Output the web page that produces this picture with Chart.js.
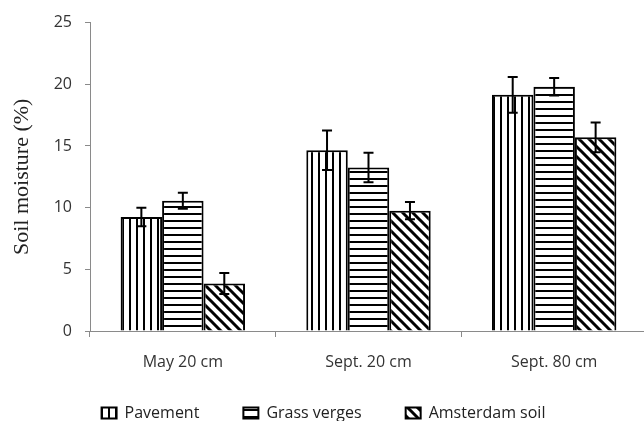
<!DOCTYPE html>
<html>
<head>
<meta charset="utf-8">
<script src="https://cdn.jsdelivr.net/npm/chart.js@4"></script>
<style>
  html, body { margin: 0; padding: 0; background: #fff; overflow: hidden; width: 644px; height: 421px; }
  canvas { display: block; }
</style>
</head>
<body>
<canvas id="c" width="648" height="446"></canvas>
<script>
// Soil moisture by sampling campaign and land type
const categories = ['May 20 cm', 'Sept. 20 cm', 'Sept. 80 cm'];
const seriesNames = ['Pavement', 'Grass verges', 'Amsterdam soil'];
const pavement = [9.25, 14.65, 19.15];
const grassVerges = [10.55, 13.25, 19.8];
const amsterdamSoil = [3.85, 9.75, 15.7];
const pavementErr = [0.75, 1.6, 1.45];
const grassVergesErr = [0.65, 1.2, 0.7];
const amsterdamSoilErr = [0.85, 0.7, 1.2];
const yTicks = [0, 5, 10, 15, 20, 25];

// Hatch fills drawn on small tiles
function hatch(kind) {
  const size = kind === 'diag' ? 10 : 7;
  const t = document.createElement('canvas');
  t.width = size; t.height = size;
  const g = t.getContext('2d');
  g.fillStyle = '#fff';
  g.fillRect(0, 0, size, size);
  g.strokeStyle = '#000';
  if (kind === 'vert') {
    g.fillStyle = '#000';
    g.fillRect(3, 0, 2, size);
  } else if (kind === 'horiz') {
    g.fillStyle = '#000';
    g.fillRect(0, 3, size, 2);
  } else {
    g.lineWidth = 3;
    g.beginPath();
    g.moveTo(-2, -2); g.lineTo(size + 2, size + 2);
    g.moveTo(-2, size - 2); g.lineTo(2, size + 2);
    g.moveTo(size - 2, -2); g.lineTo(size + 2, 2);
    g.stroke();
  }
  return g.createPattern(t, 'repeat');
}

const ctx = document.getElementById('c').getContext('2d');
const fills = [hatch('vert'), hatch('horiz'), hatch('diag')];
const values = [pavement, grassVerges, amsterdamSoil];
const errors = [pavementErr, grassVergesErr, amsterdamSoilErr];

// Error bars drawn through the value scale
const errorBars = {
  id: 'errorBars',
  afterDatasetsDraw(chart) {
    const y = chart.scales.y;
    const g = chart.ctx;
    g.save();
    g.strokeStyle = '#000';
    g.lineWidth = 2;
    chart.data.datasets.forEach((ds, di) => {
      const meta = chart.getDatasetMeta(di);
      meta.data.forEach((bar, i) => {
        const v = ds.data[i], e = ds.errors[i];
        const top = y.getPixelForValue(v + e);
        const bot = y.getPixelForValue(v - e);
        const x = bar.x, w = 5;
        g.beginPath();
        g.moveTo(x, top); g.lineTo(x, bot);
        g.moveTo(x - w, top); g.lineTo(x + w, top);
        g.moveTo(x - w, bot); g.lineTo(x + w, bot);
        g.stroke();
      });
    });
    g.restore();
  }
};

// Pull the legend row up closer to the category labels
const legendLift = {
  id: 'legendLift',
  afterLayout(chart) {
    if (chart.legend) {
      chart.legend.top -= 15;
      chart.legend.bottom -= 15;
    }
  }
};

const labelFont = { family: '"Open Sans", sans-serif', size: 16 };

new Chart(ctx, {
  type: 'bar',
  data: {
    labels: categories,
    datasets: seriesNames.map((name, i) => ({
      label: name,
      data: values[i],
      errors: errors[i],
      backgroundColor: fills[i],
      borderColor: '#000',
      borderWidth: 2,
      categoryPercentage: 0.67,
      barPercentage: 1.0
    }))
  },
  options: {
    responsive: false,
    animation: false,
    layout: { padding: { top: 19, right: 1, left: 0, bottom: 0 } },
    plugins: {
      tooltip: { enabled: false },
      legend: {
        position: 'bottom',
        labels: {
          boxWidth: 15,
          boxHeight: 11,
          padding: 44,
          color: '#222',
          font: labelFont
        }
      }
    },
    scales: {
      x: {
        grid: { drawOnChartArea: false, drawTicks: true, tickLength: 6, color: '#8a8a8a', offset: true },
        border: { color: '#8a8a8a', width: 1 },
        ticks: { color: '#333', font: labelFont, padding: 16 },
        afterFit(scale) { scale.height = 45; }
      },
      y: {
        min: 0,
        max: 25,
        afterBuildTicks(scale) { scale.ticks = yTicks.map(v => ({ value: v })); },
        grid: { drawOnChartArea: false, drawTicks: true, tickLength: 5, color: '#8a8a8a' },
        border: { color: '#8a8a8a', width: 1 },
        ticks: { color: '#333', font: labelFont, padding: 13 },
        title: {
          display: true,
          text: 'Soil moisture (%)',
          color: '#222',
          font: { family: '"Liberation Serif", "Times New Roman", serif', size: 22 },
          padding: { top: 9, bottom: 0 }
        },
        afterFit(scale) { scale.width = 90; }
      }
    }
  },
  plugins: [errorBars, legendLift]
});
</script>
</body>
</html>
